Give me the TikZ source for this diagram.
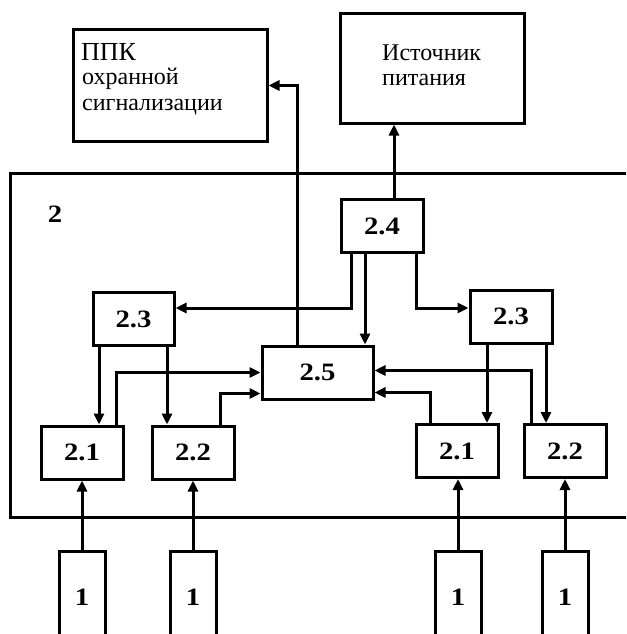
\documentclass[tikz,border=0pt]{standalone}
\usepackage{fontspec}
\setmainfont{Liberation Serif}
\newfontfamily\lblfont[FakeStretch=1.15]{Liberation Serif}
\usetikzlibrary{arrows.meta}
\begin{document}
\begin{tikzpicture}[x=1pt,y=-1pt,
  box/.style={draw,line width=3pt,inner sep=0pt},
  lbl/.style={font=\lblfont\fontsize{25}{30}\selectfont\bfseries},
  txt/.style={anchor=base west,inner sep=0pt,font=\fontsize{24}{25}\selectfont},
  blk/.style={box,lbl,minimum width=82pt,minimum height=53pt},
  src/.style={box,lbl,minimum width=46pt,minimum height=92pt},
  arr/.style={line width=3pt,-{Triangle[length=11pt,width=10pt]}},
  ]
\useasboundingbox (0,0) rectangle (626,634);
\clip (0,0) rectangle (626,634);
% outer box 2
\draw[line width=3pt] (660,173) -- (10,173) -- (10,517) -- (660,517);
\node[lbl] (lab2) at (55,214) {2};
% top boxes
\node[box,minimum width=194pt,minimum height=111pt] (ppk) at (170,85.5) {};
\node[txt,font=\fontsize{26}{28}\selectfont] (ppk1) at (81,60) {ППК};
\node[txt] (ppk2) at (82,84) {охранной};
\node[txt] (ppk3) at (82,110) {сигнализации};
\node[box,minimum width=184pt,minimum height=109pt] (pwr) at (432,68.5) {};
\node[txt] (pwr1) at (382,60) {Источник};
\node[txt] (pwr2) at (382,85) {питания};
% inner blocks
\node[blk] (b24) at (382,226) {2.4};
\node[blk,minimum width=81pt] (b23l) at (133.5,319) {2.3};
\node[blk] (b23r) at (511,316.5) {2.3};
\node[blk,minimum width=111pt] (b25) at (317.5,372.5) {2.5};
\node[blk] (b21l) at (82,452.5) {2.1};
\node[blk] (b22l) at (193,452.5) {2.2};
\node[blk] (b21r) at (457,451) {2.1};
\node[blk] (b22r) at (565,451) {2.2};
% sensors
\node[src] (o1) at (82,597) {1};
\node[src] (o2) at (193,597) {1};
\node[src] (o3) at (458,597) {1};
\node[src] (o4) at (565,597) {1};
% connectors from 2.4
\coordinate (c1) at ([xshift=-31pt]b24.south);
\coordinate (c2) at ([xshift=-17pt]b24.south);
\coordinate (c3) at ([xshift=34pt]b24.south);
\coordinate (c4) at ([xshift=12pt]b24.north);
\draw[arr] (c1) |- ([yshift=11pt]b23l.east);
\draw[arr] (c2) -- (c2 |- b25.north);
\draw[arr] (c3) |- ([yshift=8.5pt]b23r.west);
\draw[arr] (c4) -- (c4 |- pwr.south);
% 2.5 to PPK
\coordinate (c5) at ([xshift=-20.5pt]b25.north);
\draw[arr] (c5) |- (ppk.east);
% 2.3 down
\coordinate (d1) at ([xshift=-34.5pt]b23l.south);
\coordinate (d2) at ([xshift=33.5pt]b23l.south);
\coordinate (d3) at ([xshift=-24pt]b23r.south);
\coordinate (d4) at ([xshift=35pt]b23r.south);
\draw[arr] (d1) -- (d1 |- b21l.north);
\draw[arr] (d2) -- (d2 |- b22l.north);
\draw[arr] (d3) -- (d3 |- b21r.north);
\draw[arr] (d4) -- (d4 |- b22r.north);
% 2.1/2.2 up to 2.5
\coordinate (u1) at ([xshift=34pt]b21l.north);
\coordinate (u2) at ([xshift=27pt]b22l.north);
\coordinate (u3) at ([xshift=-27pt]b21r.north);
\coordinate (u4) at ([xshift=-34pt]b22r.north);
\draw[arr] (u1) |- (b25.west);
\draw[arr] (u2) |- ([yshift=-21pt]b25.west);
\draw[arr] (u3) |- ([yshift=-20pt]b25.east);
\draw[arr] (u4) |- ([yshift=2pt]b25.east);
% sensors up
\draw[arr] (o1.north) -- (o1.north |- b21l.south);
\draw[arr] (o2.north) -- (o2.north |- b22l.south);
\draw[arr] (o3.north) -- (o3.north |- b21r.south);
\draw[arr] (o4.north) -- (o4.north |- b22r.south);
\end{tikzpicture}
\end{document}
